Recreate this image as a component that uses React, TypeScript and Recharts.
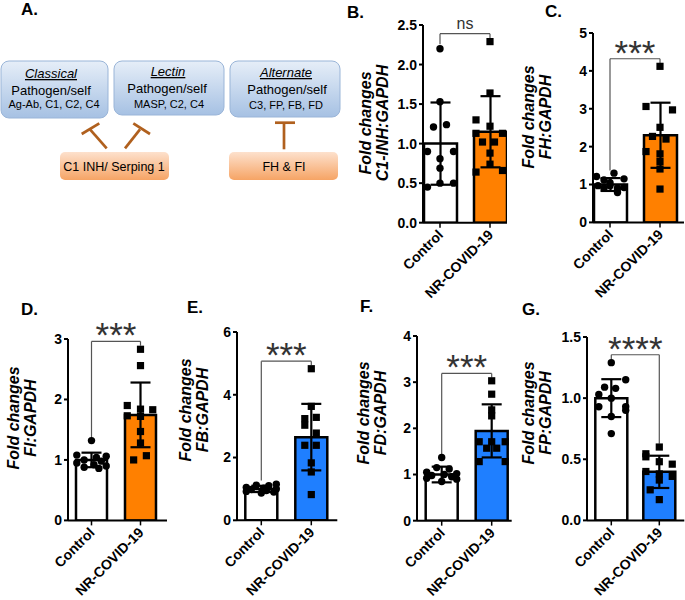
import React from "react"
import { ComposedChart, Bar, Cell, ErrorBar, Scatter, XAxis, YAxis, ReferenceLine } from "recharts"

const FONT = "'Liberation Sans', Arial, sans-serif"
const ORANGE = "#ff8000"
const BLUE = "#1f7fff"

const groups = ["Control", "NR-COVID-19"]

// B. C1-INH:GAPDH
const c1inhMean = [1.0, 1.15]
const c1inhSd = [0.52, 0.45]
const c1inhControl = [2.2, 1.53, 1.24, 1.21, 0.9, 0.9, 0.81, 0.69, 0.5, 0.5, 0.45]
const c1inhControlSpread = [0, 0, 0.13, -0.13, -0.25, 0.27, 0, 0, 0, 0.27, -0.25]
const c1inhNr = [2.29, 1.64, 1.3, 1.22, 1.13, 1.13, 1.02, 1.02, 0.88, 0.74, 0.64, 0.66]
const c1inhNrSpread = [0, 0, -0.28, 0, -0.28, 0.25, -0.15, 0.09, 0, 0, -0.28, 0.25]
const c1inhBracket = [2.39, 2.255, 2.33]

// C. FH:GAPDH
const fhMean = [1.0, 2.3]
const fhSd = [0.17, 0.86]
const fhControl = [1.21, 1.12, 1.3, 1.15, 0.97, 0.97, 0.9, 0.9, 0.92, 0.79, 1.05]
const fhControlSpread = [-0.27, -0.12, 0.08, 0.28, -0.24, 0, -0.12, 0.15, 0.28, 0.15, 0]
const fhNr = [4.12, 3.06, 2.97, 2.51, 2.27, 2.2, 1.87, 1.81, 1.61, 1.41, 0.88]
const fhNrSpread = [0, -0.28, 0.25, 0, -0.15, 0.12, -0.28, 0, 0, 0, 0]
const fhBracket = [4.32, 1.37, 4.2]

// D. FI:GAPDH
const fiMean = [1.0, 1.745]
const fiSd = [0.12, 0.535]
const fiControl = [1.32, 1.08, 1.06, 1.04, 1.0, 0.98, 0.95, 0.92, 0.9, 0.88, 0.86]
const fiControlSpread = [0, -0.3, 0.3, 0.1, -0.15, 0.2, -0.3, 0.05, 0.3, -0.15, 0.15]
const fiNr = [2.83, 2.56, 1.9, 1.84, 1.83, 1.73, 1.72, 1.47, 1.28, 1.0, 1.07]
const fiNrSpread = [0, 0, -0.27, 0, 0.25, -0.27, 0, 0, 0, -0.14, 0.12]
const fiBracket = [2.96, 1.36, 2.89]

// E. FB:GAPDH
const fbMean = [1.0, 2.65]
const fbSd = [0.1, 1.06]
const fbControl = [1.15, 1.12, 1.1, 1.05, 1.02, 1.0, 0.98, 0.95, 0.92, 0.9, 0.87]
const fbControlSpread = [0.3, -0.1, 0.15, -0.3, 0.05, 0.3, -0.2, 0.1, -0.3, 0.25, 0]
const fbNr = [4.83, 3.63, 3.24, 3.28, 3.03, 2.78, 2.39, 2.39, 1.83, 1.54, 0.82]
const fbNrSpread = [0, 0, -0.13, 0.1, -0.13, 0.1, -0.13, 0.1, 0, 0, 0]
const fbBracket = [5.07, 1.27, 4.94]

// F. FD:GAPDH
const fdMean = [1.0, 1.945]
const fdSd = [0.17, 0.575]
const fdControl = [1.37, 1.15, 1.12, 1.05, 1.02, 1.0, 0.98, 0.95, 0.92, 0.9, 0.85]
const fdControlSpread = [0, -0.1, 0.15, -0.3, 0.3, 0.05, -0.2, 0.2, -0.3, 0.3, 0]
const fdNr = [3.03, 2.74, 2.4, 2.27, 1.71, 1.71, 1.71, 1.57, 1.57, 1.28, 1.28]
const fdNrSpread = [0, 0, 0, 0, -0.25, 0, 0.27, -0.1, 0.1, -0.25, 0.27]
const fdBracket = [3.19, 1.44, 3.1]

// G. FP:GAPDH
const fpMean = [1.0, 0.397]
const fpSd = [0.155, 0.132]
const fpControl = [1.29, 1.15, 1.09, 1.08, 1.03, 1.0, 0.93, 0.93, 0.9, 0.85, 0.71]
const fpControlSpread = [0, 0.3, -0.14, 0.09, -0.26, 0, -0.26, 0.3, 0.3, 0, 0]
const fpNr = [0.6, 0.545, 0.52, 0.48, 0.46, 0.4, 0.38, 0.36, 0.33, 0.25, 0.17]
const fpNrSpread = [0, -0.28, -0.28, 0, 0.27, -0.28, 0, 0.27, 0, -0.19, 0]
const fpBracket = [1.355, 1.32, 0.627]

const Y_W = 40
const M_TOP = 55
const M_RIGHT = 4
const X_H = 85

const panels = [
  { key: "B", gene: "C1-INH:GAPDH", mean: c1inhMean, sd: c1inhSd, control: c1inhControl, controlSpread: c1inhControlSpread, nr: c1inhNr, nrSpread: c1inhNrSpread, bracket: c1inhBracket, sig: "ns",
    yMax: 2.5, ticks: [0, 0.5, 1, 1.5, 2, 2.5], decimals: 1, color: ORANGE,
    axisLeft: 423, axisRight: 507, c1: 440, c2: 490, yTop: 25, yBottom: 222.7, barWidth: 33, labelX: 371, labelY: 123 },
  { key: "C", gene: "FH:GAPDH", mean: fhMean, sd: fhSd, control: fhControl, controlSpread: fhControlSpread, nr: fhNr, nrSpread: fhNrSpread, bracket: fhBracket, sig: "***",
    yMax: 5, ticks: [0, 1, 2, 3, 4, 5], decimals: 0, color: ORANGE,
    axisLeft: 593, axisRight: 684, c1: 610, c2: 660, yTop: 33.3, yBottom: 222.7, barWidth: 33, labelX: 534, labelY: 117 },
  { key: "D", gene: "FI:GAPDH", mean: fiMean, sd: fiSd, control: fiControl, controlSpread: fiControlSpread, nr: fiNr, nrSpread: fiNrSpread, bracket: fiBracket, sig: "***",
    yMax: 3, ticks: [0, 1, 2, 3], decimals: 0, color: ORANGE,
    axisLeft: 68, axisRight: 167, c1: 91.5, c2: 140.5, yTop: 339.3, yBottom: 520.7, barWidth: 31, labelX: 19, labelY: 418 },
  { key: "E", gene: "FB:GAPDH", mean: fbMean, sd: fbSd, control: fbControl, controlSpread: fbControlSpread, nr: fbNr, nrSpread: fbNrSpread, bracket: fbBracket, sig: "***",
    yMax: 6, ticks: [0, 2, 4, 6], decimals: 0, color: BLUE,
    axisLeft: 236.7, axisRight: 337, c1: 261, c2: 311, yTop: 331.7, yBottom: 520, barWidth: 32, labelX: 191, labelY: 410 },
  { key: "F", gene: "FD:GAPDH", mean: fdMean, sd: fdSd, control: fdControl, controlSpread: fdControlSpread, nr: fdNr, nrSpread: fdNrSpread, bracket: fdBracket, sig: "***",
    yMax: 4, ticks: [0, 1, 2, 3, 4], decimals: 0, color: BLUE,
    axisLeft: 417.3, axisRight: 512, c1: 442, c2: 492, yTop: 336, yBottom: 520.7, barWidth: 32, labelX: 369, labelY: 413 },
  { key: "G", gene: "FP:GAPDH", mean: fpMean, sd: fpSd, control: fpControl, controlSpread: fpControlSpread, nr: fpNr, nrSpread: fpNrSpread, bracket: fpBracket, sig: "****",
    yMax: 1.5, ticks: [0, 0.5, 1, 1.5], decimals: 1, color: BLUE,
    axisLeft: 586.7, axisRight: 684, c1: 611, c2: 659, yTop: 337.3, yBottom: 520.7, barWidth: 32, labelX: 534, labelY: 413 },
]

const letters = [
  { t: "A.", x: 21, y: 15 },
  { t: "B.", x: 347, y: 18 },
  { t: "C.", x: 545, y: 17 },
  { t: "D.", x: 21, y: 315 },
  { t: "E.", x: 187, y: 313 },
  { t: "F.", x: 360, y: 312 },
  { t: "G.", x: 522, y: 315 },
]

function GroupTick(props: any) {
  const { x, y, payload } = props
  const name = groups[Math.round(payload.value) - 1]
  return (
    <g transform={`translate(${x + 4},${y + 6}) rotate(-45)`}>
      <text x={0} y={0} textAnchor="end" fontSize={14} fontWeight={700} fill="#000" fontFamily={FONT}>
        {name}
      </text>
    </g>
  )
}

const dotShape = (props: any) => <circle cx={props.cx} cy={props.cy} r={3.7} fill="#000" />
const squareShape = (props: any) => <rect x={props.cx - 3.6} y={props.cy - 3.6} width={7.2} height={7.2} fill="#000" />

function FoldPanel({ p }: { p: any }) {
  const unit = p.c2 - p.c1
  const lo = 1 - (p.c1 - p.axisLeft) / unit
  const hi = 2 + (p.axisRight - p.c2) / unit
  const plotH = p.yBottom - p.yTop
  const width = Y_W + (p.axisRight - p.axisLeft) + M_RIGHT
  const height = M_TOP + plotH + X_H
  const bars = groups.map((g, i) => ({ name: g, x: i + 1, mean: p.mean[i], sd: p.sd[i] }))
  const ctrl = p.control.map((v: number, i: number) => ({ x: 1 + p.controlSpread[i], y: v }))
  const nr = p.nr.map((v: number, i: number) => ({ x: 2 + p.nrSpread[i], y: v }))
  const [top, leftEnd, rightEnd] = p.bracket
  const stars = p.sig !== "ns"
  const bracketStyle = { xAxisId: "grp", stroke: "#555", strokeWidth: 1.2, ifOverflow: "visible" as const }

  return (
    <div style={{ position: "absolute", left: p.axisLeft - Y_W, top: p.yTop - M_TOP }}>
      <ComposedChart width={width} height={height} data={bars} margin={{ top: M_TOP, right: M_RIGHT, bottom: 0, left: 0 }}>
        <XAxis
          xAxisId="grp"
          type="number"
          dataKey="x"
          domain={[lo, hi]}
          ticks={[1, 2]}
          interval={0}
          height={X_H}
          tickSize={5}
          tickMargin={2}
          allowDataOverflow
          axisLine={{ stroke: "#000", strokeWidth: 2 }}
          tickLine={{ stroke: "#000", strokeWidth: 1.5 }}
          tick={(t: any) => <GroupTick {...t} />}
        />
        <XAxis xAxisId="pts" type="number" dataKey="x" domain={[lo, hi]} allowDataOverflow hide />
        <YAxis
          type="number"
          domain={[0, p.yMax]}
          ticks={p.ticks}
          interval={0}
          width={Y_W}
          tickSize={4}
          tickMargin={2}
          allowDataOverflow
          tickFormatter={(v: number) => v.toFixed(p.decimals)}
          axisLine={{ stroke: "#000", strokeWidth: 2 }}
          tickLine={{ stroke: "#000", strokeWidth: 2 }}
          tick={{ fontSize: 14, fontWeight: 700, fill: "#000", fontFamily: FONT }}
        />
        <Bar xAxisId="grp" dataKey="mean" barSize={p.barWidth} stroke="#000" strokeWidth={2.5} isAnimationActive={false}>
          {bars.map((b, i) => (
            <Cell key={b.name} fill={i === 0 ? "#fff" : p.color} />
          ))}
          <ErrorBar dataKey="sd" width={10} stroke="#000" strokeWidth={2.2} direction="y" />
        </Bar>
        <Scatter xAxisId="pts" data={ctrl} dataKey="y" shape={dotShape} isAnimationActive={false} />
        <Scatter xAxisId="pts" data={nr} dataKey="y" shape={squareShape} isAnimationActive={false} />
        <ReferenceLine segment={[{ x: 1, y: leftEnd }, { x: 1, y: top }]} {...bracketStyle} />
        <ReferenceLine
          segment={[{ x: 1, y: top }, { x: 2, y: top }]}
          {...bracketStyle}
          label={{
            value: p.sig,
            position: "top",
            offset: stars ? -6 : 5,
            fontSize: stars ? 35 : 16,
            fill: "#333",
            fontFamily: FONT,
          }}
        />
        <ReferenceLine segment={[{ x: 2, y: top }, { x: 2, y: rightEnd }]} {...bracketStyle} />
      </ComposedChart>
    </div>
  )
}

function PathwayDiagram() {
  const boxText = { fontFamily: FONT, fill: "#000", textAnchor: "middle" as const }
  const brown = { stroke: "#b0601e", strokeWidth: 2.7, strokeLinecap: "butt" as const }
  return (
    <g>
      <defs>
        <linearGradient id="blueBox" x1="0" y1="0" x2="0" y2="1">
          <stop offset="0" stopColor="#e6eef8" />
          <stop offset="1" stopColor="#a6c1e3" />
        </linearGradient>
        <linearGradient id="orangeBox" x1="0" y1="0" x2="0" y2="1">
          <stop offset="0" stopColor="#fde1cd" />
          <stop offset="1" stopColor="#f6a465" />
        </linearGradient>
      </defs>
      <rect x={1} y={61} width={107} height={57} rx={8} fill="url(#blueBox)" stroke="#9ab5d8" />
      <rect x={114} y={61} width={110} height={54} rx={8} fill="url(#blueBox)" stroke="#9ab5d8" />
      <rect x={230} y={61} width={110} height={56} rx={8} fill="url(#blueBox)" stroke="#9ab5d8" />
      <text {...boxText} x={51} y={78} fontSize={13} fontStyle="italic" textDecoration="underline">Classical</text>
      <text {...boxText} x={51} y={95} fontSize={13}>Pathogen/self</text>
      <text {...boxText} x={54} y={108} fontSize={11}>Ag-Ab, C1, C2, C4</text>
      <text {...boxText} x={168} y={76} fontSize={13} fontStyle="italic" textDecoration="underline">Lectin</text>
      <text {...boxText} x={167} y={93} fontSize={13}>Pathogen/self</text>
      <text {...boxText} x={169} y={108} fontSize={11}>MASP, C2, C4</text>
      <text {...boxText} x={286} y={77} fontSize={13} fontStyle="italic" textDecoration="underline">Alternate</text>
      <text {...boxText} x={287} y={94} fontSize={13}>Pathogen/self</text>
      <text {...boxText} x={286} y={109} fontSize={11}>C3, FP, FB, FD</text>

      <line x1={106.7} y1={148.3} x2={90} y2={129.3} {...brown} />
      <line x1={81.7} y1={134} x2={99.3} y2={123.3} {...brown} />
      <line x1={125} y1={148.3} x2={140} y2={129.3} {...brown} />
      <line x1={133.3} y1={123.3} x2={150} y2={134} {...brown} />
      <line x1={284} y1={149.3} x2={284} y2={123.3} {...brown} />
      <line x1={275} y1={122.7} x2={295} y2={122.7} {...brown} />

      <rect x={60} y={152} width={109} height={28} rx={5} fill="url(#orangeBox)" />
      <rect x={229} y={152} width={109} height={28} rx={5} fill="url(#orangeBox)" />
      <text {...boxText} x={114} y={171} fontSize={12.5}>C1 INH/ Serping 1</text>
      <text {...boxText} x={284} y={171} fontSize={12.5}>FH &amp; FI</text>
    </g>
  )
}

export default function App() {
  return (
    <div style={{ position: "absolute", left: 0, top: 0, width: 685, height: 600, overflow: "hidden", background: "#fff", fontFamily: FONT }}>
      <svg width={685} height={600} style={{ position: "absolute", left: 0, top: 0 }}>
        <PathwayDiagram />
        {letters.map((l) => (
          <text key={l.t} x={l.x} y={l.y} fontSize={17} fontWeight={700} fontFamily={FONT} fill="#000">
            {l.t}
          </text>
        ))}
        {panels.map((p) => (
          <g key={p.key} fontFamily={FONT} fontSize={16} fontWeight={700} fontStyle="italic" fill="#000" textAnchor="middle">
            <text x={p.labelX} y={p.labelY} transform={`rotate(-90 ${p.labelX} ${p.labelY})`}>Fold changes</text>
            <text x={p.labelX + 17} y={p.labelY} transform={`rotate(-90 ${p.labelX + 17} ${p.labelY})`}>{p.gene}</text>
          </g>
        ))}
      </svg>
      {panels.map((p) => (
        <FoldPanel key={p.key} p={p} />
      ))}
    </div>
  )
}
